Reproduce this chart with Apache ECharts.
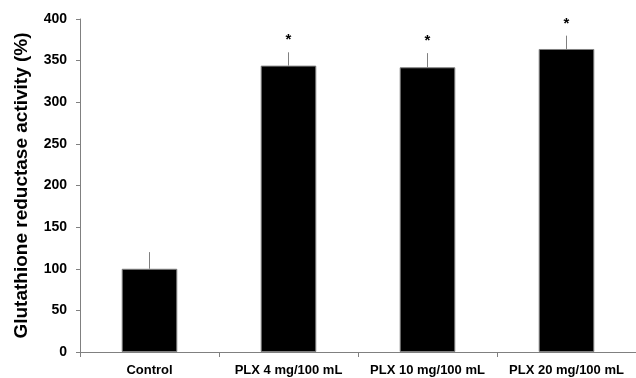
<!DOCTYPE html>
<html><head><meta charset="utf-8">
<script src="https://cdn.jsdelivr.net/npm/echarts@6/dist/echarts.min.js"></script>
<style>html,body{margin:0;padding:0;background:#fff}#c{width:636px;height:378px}</style>
</head><body><div id="c"></div>
<script>
const categories = ['Control', 'PLX 4 mg/100 mL', 'PLX 10 mg/100 mL', 'PLX 20 mg/100 mL'];
const values = [100, 344, 342, 364];
const errors = [20, 16, 17, 16];
const marks = ['', '*', '*', '*'];
const yTicks = [0, 50, 100, 150, 200, 250, 300, 350, 400];

const chart = echarts.init(document.getElementById('c'));
chart.setOption({
  animation: false,
  grid: { left: 80, right: -2, top: 19, bottom: 26 },
  xAxis: {
    type: 'category', data: categories,
    axisLine: { lineStyle: { color: '#808080', width: 1 } },
    axisTick: { show: true, length: 5, lineStyle: { color: '#808080' } },
    axisLabel: { color: '#000', fontWeight: 'bold', fontFamily: 'Liberation Sans, Arial', fontSize: 13, margin: 12, interval: 0 }
  },
  yAxis: {
    type: 'value', min: 0, max: 400, interval: 50,
    name: 'Glutathione reductase activity (%)', nameLocation: 'middle', nameGap: 49,
    nameTextStyle: { color: '#000', fontWeight: 'bold', fontFamily: 'Liberation Sans, Arial', fontSize: 19 },
    axisLine: { show: true, lineStyle: { color: '#808080', width: 1 } },
    axisTick: { show: true, length: 4, lineStyle: { color: '#808080' } },
    splitLine: { show: false },
    axisLabel: { color: '#000', fontWeight: 'bold', fontFamily: 'Liberation Sans, Arial', fontSize: 14, margin: 13 }
  },
  series: [
    { type: 'bar', data: values, barWidth: '40%', itemStyle: { color: '#000', borderColor: '#808080', borderWidth: 1 } },
    {
      type: 'custom', z: 1,
      data: values.map((v, i) => [i, v, v + errors[i], marks[i]]),
      renderItem: function (params, api) {
        const base = api.coord([api.value(0), api.value(1)]);
        const top = api.coord([api.value(0), api.value(2)]);
        return {
          type: 'group', children: [
            { type: 'line', shape: { x1: base[0], y1: base[1], x2: top[0], y2: top[1] }, style: { stroke: '#808080', lineWidth: 1 } },
            { type: 'text', style: { text: marks[params.dataIndex], x: top[0], y: top[1] - 12, align: 'center', verticalAlign: 'middle', fill: '#000', font: 'bold 15px Liberation Sans, Arial' } }
          ]
        };
      }
    }
  ]
});
</script></body></html>
